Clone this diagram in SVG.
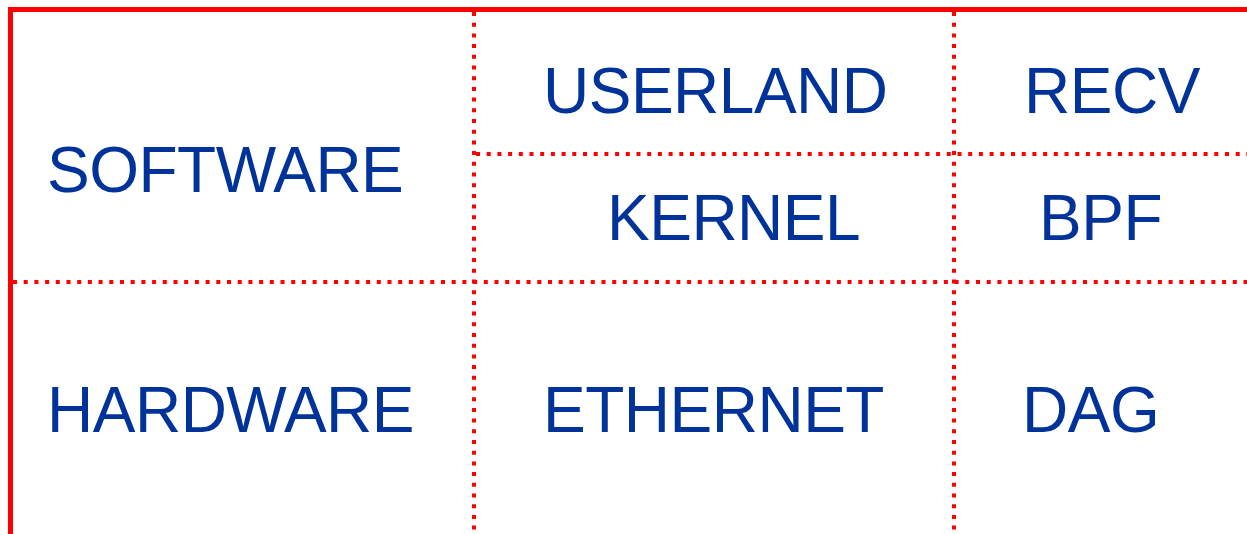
<svg xmlns="http://www.w3.org/2000/svg" width="1247" height="534" viewBox="0 0 1247 534">
<style>
.solid{stroke:#ff0000;stroke-width:5;fill:none}
.dot{stroke:#ff0000;stroke-width:4;stroke-dasharray:4 6.7;fill:none}
.lbl{font-family:"Liberation Sans",Arial,sans-serif;font-size:64px;letter-spacing:-0.5px;fill:#003399}
</style>
<rect width="1247" height="534" fill="#ffffff"/>
<g id="connectors">
<path class="solid" d="M10.5,534 V9.5 H1247"/>
<path class="dot" d="M474,12 V534"/>
<path class="dot" d="M954,12 V534"/>
<path class="dot" d="M13,282 H1247"/>
<path class="dot" d="M476,154 H1247"/>
</g>
<g id="software"><text class="lbl" x="47" y="192">SOFTWARE</text></g>
<g id="hardware"><text class="lbl" x="47" y="432">HARDWARE</text></g>
<g id="userland"><text class="lbl" x="543" y="113">USERLAND</text></g>
<g id="kernel"><text class="lbl" x="607" y="240">KERNEL</text></g>
<g id="ethernet"><text class="lbl" x="543" y="432">ETHERNET</text></g>
<g id="recv"><text class="lbl" x="1024" y="113">RECV</text></g>
<g id="bpf"><text class="lbl" x="1039" y="240">BPF</text></g>
<g id="dag"><text class="lbl" x="1022" y="432">DAG</text></g>
</svg>
